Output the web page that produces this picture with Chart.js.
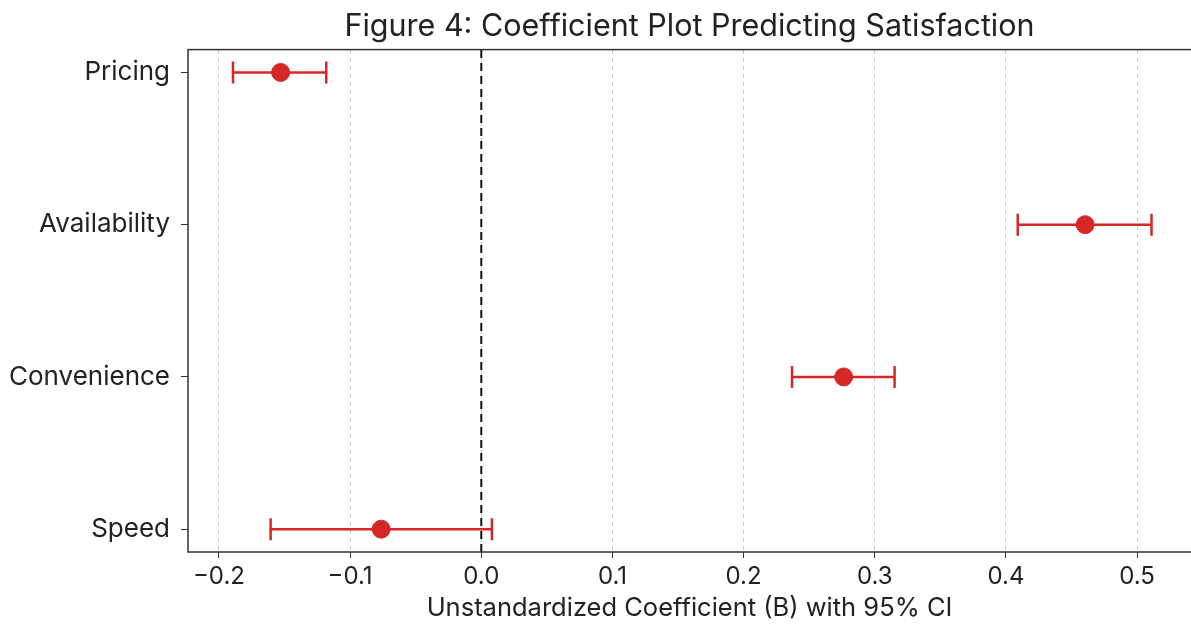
<!DOCTYPE html>
<html>
<head>
<meta charset="utf-8">
<script src="https://cdn.jsdelivr.net/npm/chart.js@4/dist/chart.umd.min.js"></script>
<style>
   html, body { margin: 0; padding: 0; background: #fff; overflow: hidden; }
</style>
</head>
<body>
<canvas id="chart" width="1191" height="629"></canvas>
<script>
// categories listed top to bottom
const categories = ['Pricing', 'Availability', 'Convenience', 'Speed'];
const coefs = [-0.153, 0.4604, 0.2763, -0.0763];
const ciLow = [-0.1893, 0.409, 0.2369, -0.1606];
const ciHigh = [-0.1182, 0.511, 0.3151, 0.0081];
const xTicks = [-0.2, -0.1, 0.0, 0.1, 0.2, 0.3, 0.4, 0.5];

const RED = '#d62728';
const FONT = "Inter, sans-serif";

// y position of each category: top row is highest
const yPos = categories.map((c, i) => categories.length - 1 - i);

const ciSets = categories.map((c, i) => ({
   type: 'line',
   label: c + ' CI',
   data: [{ x: ciLow[i], y: yPos[i] }, { x: ciHigh[i], y: yPos[i] }],
   borderColor: RED,
   borderWidth: 2.5,
   pointRadius: 0,
   order: 2
}));

const capSet = {
   type: 'scatter',
   label: 'caps',
   data: categories.flatMap((c, i) => [{ x: ciLow[i], y: yPos[i] }, { x: ciHigh[i], y: yPos[i] }]),
   pointStyle: 'line',
   rotation: 90,
   pointRadius: 11,
   borderColor: RED,
   borderWidth: 2.5,
   order: 2
};

const zeroLine = {
   type: 'line',
   label: 'zero',
   data: [{ x: 0, y: -0.15 }, { x: 0, y: 3.15 }],
   borderColor: '#111',
   borderWidth: 2,
   borderDash: [8, 5],
   pointRadius: 0,
   order: 1
};

const pointSet = {
   type: 'scatter',
   label: 'coef',
   data: categories.map((c, i) => ({ x: coefs[i], y: yPos[i] })),
   pointRadius: 9,
   backgroundColor: RED,
   borderColor: RED,
   borderWidth: 1,
   order: 0
};

// frame around the plot area (right side falls off the canvas, as in the original)
const boxPlugin = {
   id: 'box',
   afterDraw(chart) {
      const a = chart.chartArea, ctx = chart.ctx;
      ctx.save();
      ctx.strokeStyle = '#333';
      ctx.lineWidth = 1.5;
      ctx.strokeRect(a.left, a.top, a.right - a.left + 4, a.bottom - a.top);
      ctx.restore();
   }
};

new Chart(document.getElementById('chart'), {
   type: 'scatter',
   data: { datasets: [...ciSets, capSet, zeroLine, pointSet] },
   options: {
      responsive: false,
      animation: false,
      layout: { padding: 0, autoPadding: false },
      plugins: {
         legend: { display: false },
         tooltip: { enabled: false },
         title: {
            display: true,
            text: 'Figure 4: Coefficient Plot Predicting Satisfaction',
            fullSize: false,
            color: '#222',
            font: { family: FONT, size: 30.5, weight: 'normal' },
            padding: { top: 9, bottom: 4 }
         }
      },
      scales: {
         x: {
            type: 'linear',
            min: -0.2236,
            max: 0.5411,
            afterBuildTicks: s => { s.ticks = xTicks.map(v => ({ value: v })); },
            afterFit: s => { s.height = 77; s.paddingRight = 0; s.paddingLeft = 0; },
            ticks: {
               color: '#222',
               font: { family: FONT, size: 24 },
               padding: 4,
               callback: v => (v < 0 ? '\u2212' : '') + Math.abs(v).toFixed(1)
            },
            grid: {
               color: '#c8c8c8',
               tickBorderDash: [],
               tickColor: '#333',
               tickLength: 6,
               lineWidth: 1
            },
            border: { display: false, dash: [4, 4] },
            title: {
               display: true,
               text: 'Unstandardized Coefficient (B) with 95% CI',
               color: '#222',
               font: { family: FONT, size: 25.5 },
               padding: { top: 0, bottom: 5 }
            }
         },
         y: {
            type: 'linear',
            min: -0.15,
            max: 3.15,
            afterBuildTicks: s => { s.ticks = yPos.map(v => ({ value: v })); },
            afterFit: s => { s.width = 188; },
            ticks: {
               color: '#222',
               font: { family: FONT, size: 26 },
               padding: 11,
               callback: v => categories[categories.length - 1 - v]
            },
            grid: {
               drawOnChartArea: false,
               tickColor: '#333',
               tickLength: 7
            },
            border: { display: false }
         }
      }
   },
   plugins: [boxPlugin]
});
</script>
</body>
</html>
